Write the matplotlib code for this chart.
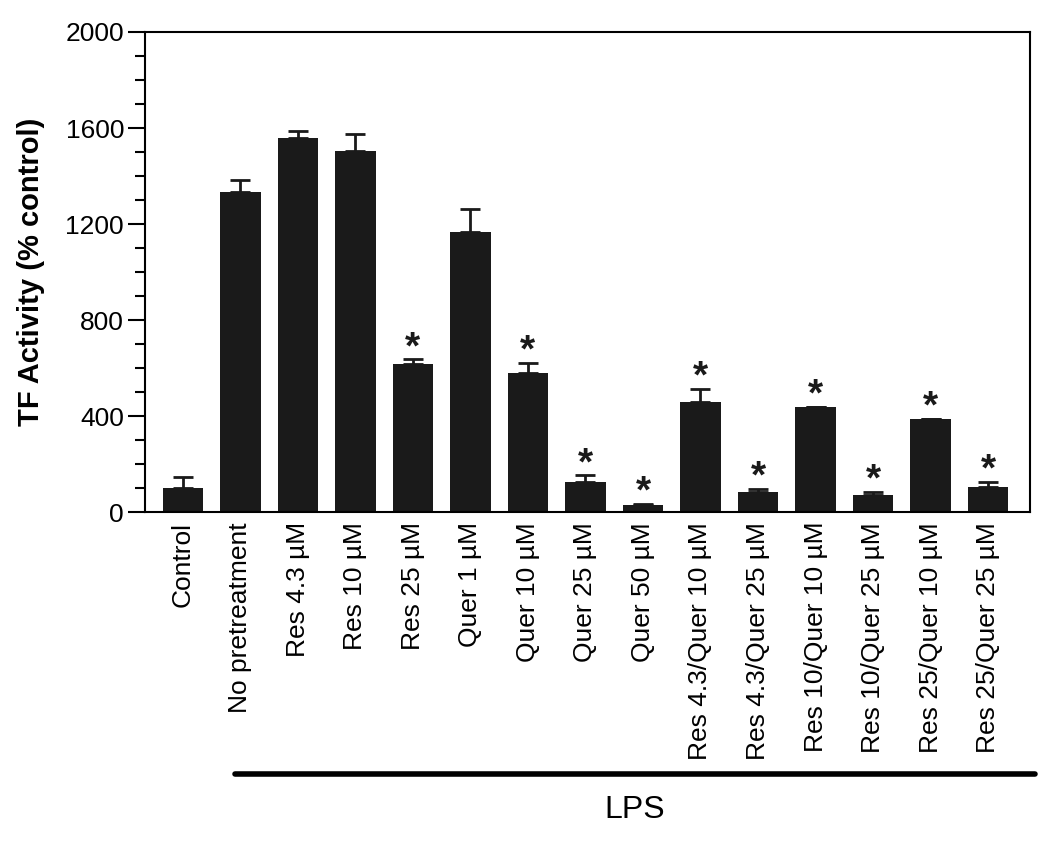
import numpy as np
import matplotlib
matplotlib.use("Agg")
import matplotlib.pyplot as plt
from matplotlib.ticker import MultipleLocator
from matplotlib.transforms import blended_transform_factory

plt.rcParams['font.family'] = ['Liberation Sans', 'DejaVu Sans']

# 数据
groups = ["Control", "No pretreatment", "Res 4.3 µM", "Res 10 µM", "Res 25 µM",
          "Quer 1 µM", "Quer 10 µM", "Quer 25 µM", "Quer 50 µM",
          "Res 4.3/Quer 10 µM", "Res 4.3/Quer 25 µM", "Res 10/Quer 10 µM",
          "Res 10/Quer 25 µM", "Res 25/Quer 10 µM", "Res 25/Quer 25 µM"]
tf_activity = [100, 1335, 1560, 1505, 618, 1168, 578, 125, 30, 460, 83, 436, 70, 387, 105]
tf_sem = [45, 47, 28, 68, 18, 96, 42, 28, 5, 55, 12, 3, 14, 2, 22]
significant = [False, False, False, False, True, False, True, True, True,
               True, True, True, True, True, True]
yticks = [0, 400, 800, 1200, 1600, 2000]

x = np.arange(len(groups))

fig = plt.figure(figsize=(10.5, 8.41), dpi=100)
ax = fig.add_axes([0.138, 0.391, 0.843, 0.571])

ax.bar(x, tf_activity, width=0.70, color="#1a1a1a", zorder=2)
ax.errorbar(x, tf_activity, yerr=[np.zeros(len(x)), tf_sem], fmt="none",
            ecolor="#1a1a1a", elinewidth=2, capsize=7.5, capthick=2, zorder=3)

# 显著性星号
for xi, v, e, s in zip(x, tf_activity, tf_sem, significant):
    if s:
        ax.annotate("*", xy=(xi, v + e), xytext=(0, 1), textcoords="offset points",
                    ha="center", va="baseline", fontsize=28, fontweight="bold",
                    color="#1a1a1a")

ax.set_xlim(-0.66, 14.73)
ax.set_ylim(0, 2000)
ax.set_yticks(yticks)
ax.yaxis.set_minor_locator(MultipleLocator(100))
ax.tick_params(axis="y", which="major", length=12, width=1.5, labelsize=19, pad=3)
ax.tick_params(axis="y", which="minor", length=7, width=1.5)
ax.set_xticks(x)
ax.set_xticklabels(groups, rotation=90, fontsize=19, va="top")
ax.tick_params(axis="x", length=0, pad=7)
for sp in ax.spines.values():
    sp.set_linewidth(1.5)
ax.set_ylabel("TF Activity (% control)", fontsize=21, fontweight="bold", labelpad=15)

# LPS 横线
trans = blended_transform_factory(ax.transData, fig.transFigure)
ax.plot([x[1] - 0.1, x[-1] + 0.82], [0.0797, 0.0797], transform=trans,
        color="black", lw=4, solid_capstyle="round", clip_on=False)
ax.text((x[1] - 0.1 + x[-1] + 0.82) / 2, 0.037, "LPS", transform=trans,
        ha="center", va="center", fontsize=23)

fig.savefig("out.png", dpi=100)
